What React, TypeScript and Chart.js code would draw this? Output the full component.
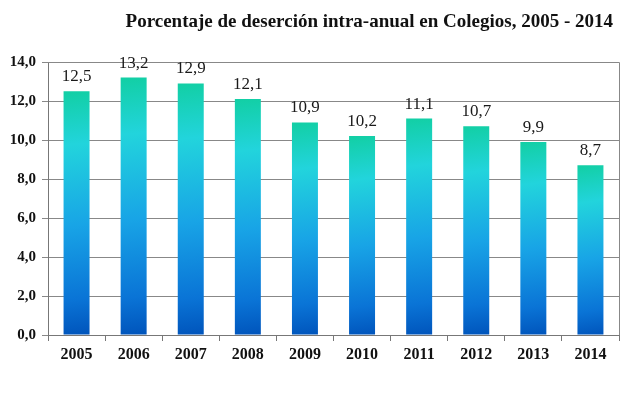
import React, { useEffect, useRef } from "react";
import { Chart, registerables } from "chart.js";

Chart.register(...registerables);

const years = ["2005", "2006", "2007", "2008", "2009", "2010", "2011", "2012", "2013", "2014"];
const values = [12.5, 13.2, 12.9, 12.1, 10.9, 10.2, 11.1, 10.7, 9.9, 8.7];
const titleText = "Porcentaje de deserción intra-anual en Colegios, 2005 - 2014";

const BAR_PCT = 0.455;

const fmt = (v: number) => v.toFixed(1).replace(".", ",");

const overlayPlugin = {
  id: "overlay",
  afterDraw(chart: any) {
    const { ctx, chartArea } = chart;
    ctx.save();
    // top & right border
    ctx.strokeStyle = "#888888";
    ctx.lineWidth = 1;
    ctx.beginPath();
    ctx.moveTo(chartArea.left, chartArea.top + 0.5);
    ctx.lineTo(chartArea.right + 0.5, chartArea.top + 0.5);
    ctx.lineTo(chartArea.right + 0.5, chartArea.bottom);
    ctx.stroke();
    // title
    ctx.fillStyle = "#111111";
    ctx.font = "bold 19px 'Liberation Serif', serif";
    ctx.textAlign = "right";
    ctx.textBaseline = "middle";
    ctx.fillText(titleText, 613, 22);
    // data labels
    const meta = chart.getDatasetMeta(0);
    ctx.font = "17px 'Liberation Serif', serif";
    ctx.textAlign = "center";
    ctx.textBaseline = "bottom";
    ctx.fillStyle = "#1a1a1a";
    meta.data.forEach((el: any, i: number) => {
      ctx.fillText(fmt(values[i]), el.x, el.y - 6);
    });
    ctx.restore();
  },
};

export default function App() {
  const ref = useRef<HTMLCanvasElement | null>(null);
  useEffect(() => {
    document.body.style.margin = "0";
    const canvas = ref.current;
    if (!canvas) return;
    const chart = new Chart(canvas, {
      type: "bar",
      data: {
        labels: years,
        datasets: [
          {
            data: values,
            barPercentage: BAR_PCT,
            categoryPercentage: 1,
            backgroundColor: (c: any) => {
              const chart = c.chart;
              const xs = chart.scales?.x;
              const ys = chart.scales?.y;
              if (!chart.chartArea || !xs || !ys || c.dataIndex === undefined) return "#18a8e6";
              const x = xs.getPixelForValue(c.dataIndex);
              const w = ((xs.right - xs.left) / years.length) * BAR_PCT;
              const yTop = ys.getPixelForValue(values[c.dataIndex]);
              const yBase = ys.getPixelForValue(0);
              const g = chart.ctx.createLinearGradient(x - w / 2, yTop, x + w / 2, yBase);
              g.addColorStop(0, "#12cfa4");
              g.addColorStop(0.22, "#22d4dc");
              g.addColorStop(0.55, "#18a4e6");
              g.addColorStop(0.85, "#0a74d6");
              g.addColorStop(1, "#0054bb");
              return g;
            },
            borderWidth: 0,
          },
        ],
      },
      options: {
        animation: false,
        responsive: false,
        maintainAspectRatio: false,
        layout: { padding: { top: 62, right: 13, left: 0, bottom: 0 } },
        plugins: { legend: { display: false }, title: { display: false }, tooltip: { enabled: false } },
        scales: {
          x: {
            grid: {
              offset: true,
              drawOnChartArea: false,
              drawTicks: true,
              tickLength: 6,
              color: "#777777",
            },
            border: { color: "#777777", width: 1 },
            ticks: {
              color: "#111111",
              font: { family: "'Liberation Serif', serif", weight: "bold", size: 16 },
              padding: 4,
            },
            afterFit: (s: any) => {
              s.height = 76;
            },
          },
          y: {
            min: 0,
            max: 14,
            ticks: {
              stepSize: 2,
              color: "#111111",
              font: { family: "'Liberation Serif', serif", weight: "bold", size: 15 },
              padding: 6,
              callback: (v: any) => fmt(Number(v)),
            },
            grid: { color: "#888888", tickLength: 6, drawTicks: true },
            border: { color: "#777777", width: 1 },
            afterFit: (s: any) => {
              s.width = 48;
            },
          },
        },
      },
      plugins: [overlayPlugin],
    });
    return () => chart.destroy();
  }, []);
  return <canvas ref={ref} width={632} height={411} style={{ display: "block", width: 632, height: 411 }} />;
}
